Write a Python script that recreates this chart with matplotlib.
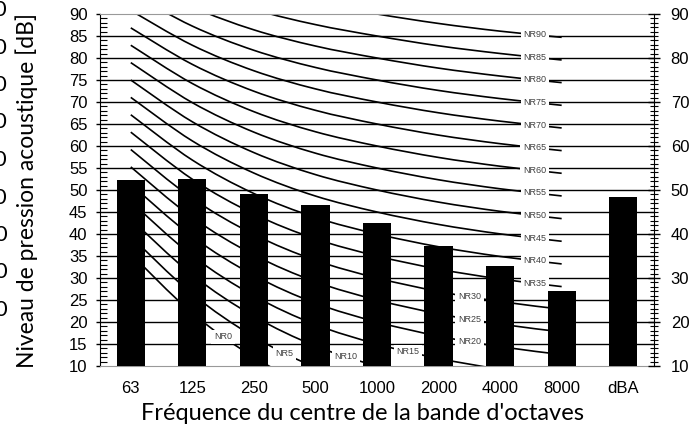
import numpy as np
import matplotlib
matplotlib.use('Agg')
import matplotlib.pyplot as plt
from matplotlib.path import Path
from matplotlib.patches import PathPatch
from matplotlib.ticker import MultipleLocator

# Fréquences de bande d'octave et niveaux mesurés
bandes = ['63', '125', '250', '500', '1000', '2000', '4000', '8000', 'dBA']
niveaux = [52.2, 52.6, 49.2, 46.6, 42.5, 37.3, 32.7, 27.1, 48.3]

# Courbes NR (63 Hz ... 8000 Hz)
nr_noms = [0, 5, 10, 15, 20, 25, 30, 35, 40, 45, 50, 55, 60, 65, 70, 75, 80, 85, 90]
nr_valeurs = [
    [35.5, 22.0, 12.0, 4.8, 0.0, -3.5, -6.1, -8.0],
    [39.45, 26.35, 16.65, 9.67, 5.0, 1.575, -0.975, -2.85],
    [43.4, 30.7, 21.3, 14.54, 10.0, 6.65, 4.15, 2.3],
    [47.35, 35.05, 25.95, 19.41, 15.0, 11.725, 9.275, 7.45],
    [51.3, 39.4, 30.6, 24.28, 20.0, 16.8, 14.4, 12.6],
    [55.25, 43.75, 35.25, 29.15, 25.0, 21.875, 19.525, 17.75],
    [59.2, 48.1, 39.9, 34.02, 30.0, 26.95, 24.65, 22.9],
    [63.15, 52.45, 44.55, 38.89, 35.0, 32.025, 29.775, 28.05],
    [67.1, 56.8, 49.2, 43.76, 40.0, 37.1, 34.9, 33.2],
    [71.05, 61.15, 53.85, 48.63, 45.0, 42.175, 40.025, 38.35],
    [75.0, 65.5, 58.5, 53.5, 50.0, 47.25, 45.15, 43.5],
    [78.95, 69.85, 63.15, 58.37, 55.0, 52.325, 50.275, 48.65],
    [82.9, 74.2, 67.8, 63.24, 60.0, 57.4, 55.4, 53.8],
    [86.85, 78.55, 72.45, 68.11, 65.0, 62.475, 60.525, 58.95],
    [90.8, 82.9, 77.1, 72.98, 70.0, 67.55, 65.65, 64.1],
    [94.75, 87.25, 81.75, 77.85, 75.0, 72.625, 70.775, 69.25],
    [98.7, 91.6, 86.4, 82.72, 80.0, 77.7, 75.9, 74.4],
    [102.65, 95.95, 91.05, 87.59, 85.0, 82.775, 81.025, 79.55],
    [106.6, 100.3, 95.7, 92.46, 90.0, 87.85, 86.1, 84.7],
]
# segment (entre deux bandes) où l'étiquette est posée
nr_segment = [1, 2, 3, 4, 5, 5, 5] + [6] * 12

plt.rcParams['font.family'] = ['Liberation Sans', 'DejaVu Sans']

fig = plt.figure(figsize=(6.94, 4.26), dpi=100)
ax = fig.add_axes([100 / 694, 1 - 366 / 426, 554 / 694, 352 / 426])


def bezier_pts(y):
    # points de contrôle type Catmull-Rom (lissage comme Excel)
    x = np.arange(len(y), dtype=float)
    p = np.column_stack([x, y])
    verts = [p[0]]
    codes = [Path.MOVETO]
    n = len(p)
    for i in range(n - 1):
        p0 = p[max(i - 1, 0)]
        p3 = p[min(i + 2, n - 1)]
        c1 = p[i] + (p[i + 1] - p0) / 6
        c2 = p[i + 1] - (p3 - p[i]) / 6
        verts += [c1, c2, p[i + 1]]
        codes += [Path.CURVE4] * 3
    return verts, codes


for nom, vals, seg in zip(nr_noms, nr_valeurs, nr_segment):
    verts, codes = bezier_pts(vals)
    ax.add_patch(PathPatch(Path(verts, codes), fill=False, color='black',
                           lw=1.2, zorder=2))
    # milieu de la courbe de Bezier du segment
    k = 3 * seg
    pts = np.array(verts[k:k + 4])
    mid = (pts[0] + 3 * pts[1] + 3 * pts[2] + pts[3]) / 8
    ax.text(mid[0], mid[1], f'NR{nom}', fontsize=6.5, color='#404040',
            ha='center', va='center', zorder=5,
            bbox=dict(boxstyle='square,pad=0.3', fc='white', ec='none'))

ax.bar(range(len(bandes)), niveaux, width=0.46, color='black', zorder=3)

for g in range(15, 90, 5):
    ax.axhline(g, color='black', lw=1, zorder=1)

ax.set_xlim(-0.5, 8.5)
ax.set_ylim(10, 90)
ax.set_xticks(range(len(bandes)))
ax.set_xticklabels(bandes)
ax.tick_params(axis='x', length=0, pad=11, labelsize=12)
ax.yaxis.set_major_locator(MultipleLocator(5))
ax.yaxis.set_minor_locator(MultipleLocator(1))
ax.tick_params(axis='y', which='major', direction='out', length=3, width=1,
               labelsize=12, pad=6)
ax.tick_params(axis='y', which='minor', direction='in', length=5, width=0.8)
for s in ['top', 'bottom']:
    ax.spines[s].set_color('#999999')
ax.spines['right'].set_visible(False)

ax2 = ax.twinx()
ax2.set_ylim(10, 90)
ax2.yaxis.set_major_locator(MultipleLocator(10))
ax2.yaxis.set_minor_locator(MultipleLocator(1))
ax2.tick_params(axis='y', which='major', direction='inout', length=8, width=1,
                labelsize=12, pad=8)
ax2.tick_params(axis='y', which='minor', direction='inout', length=6, width=0.8)
for s in ['top', 'bottom', 'left']:
    ax2.spines[s].set_visible(False)

fig.text(362 / 694, 1 - 413 / 426, "Fréquence du centre de la bande d'octaves",
         family=['Lato', 'DejaVu Sans'], fontsize=17, ha='center', va='center')
fig.text(27 / 694, 1 - 190 / 426, 'Niveau de pression acoustique [dB]',
         family=['Lato', 'DejaVu Sans'], fontsize=16.5, rotation=90,
         ha='center', va='center')

# restes d'étiquettes d'un graphique voisin, coupés au bord gauche
for i, t in enumerate(['90', '80', '70', '60', '50', '40', '30', '20', '10']):
    fig.text(8 / 694, 1 - (10 + i * 37.5) / 426, t, family=['Lato', 'DejaVu Sans'],
             fontsize=16, ha='right', va='center')

fig.savefig('out.png', dpi=100)
